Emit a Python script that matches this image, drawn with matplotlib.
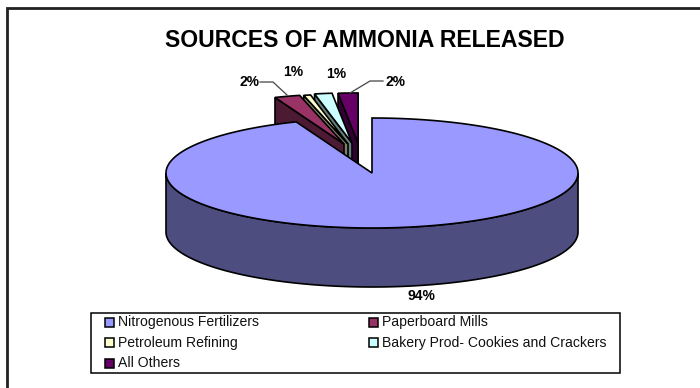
import numpy as np
import matplotlib
matplotlib.use("Agg")
import matplotlib.pyplot as plt
from matplotlib.patches import Polygon, Rectangle

plt.rcParams['font.family'] = ['Liberation Sans', 'DejaVu Sans']

categories = ["Nitrogenous Fertilizers", "Paperboard Mills", "Petroleum Refining",
              "Bakery Prod- Cookies and Crackers", "All Others"]
values = [94, 2.2, 0.6, 1.5, 1.7]
percent_labels = ["94%", "2%", "1%", "1%", "2%"]
top_colors = ["#9999ff", "#993366", "#ffffcc", "#ccffff", "#660066"]
side_colors = ["#4d4d80", "#4d1a33", "#808066", "#668080", "#330033"]
title = "SOURCES OF AMMONIA RELEASED"

W, H = 700, 388
fig = plt.figure(figsize=(W/100, H/100), dpi=100)
ax = fig.add_axes([0, 0, 1, 1])
ax.set_xlim(0, W); ax.set_ylim(H, 0); ax.axis('off')

# frame: top and left only reach into this crop of the slide
ax.plot([7, 7, W], [H, 8, 8], color="#222222", lw=2.0, solid_capstyle='butt', solid_joinstyle='miter')

cx, cy, rx, ry, depth = 372, 173, 206, 55, 59
lw = 1.2

def pt(theta, r=1.0, off=(0, 0)):
    return (cx + off[0] + r*rx*np.sin(theta), cy + off[1] - r*ry*np.cos(theta))

total = sum(values)
sweep = [v/total*2*np.pi for v in values]

# small exploded slices, drawn right to left so the left ones overlap
offs = [None, (-28, -29), (-24, -29), (-20, -30), (-14, -30)]
k = 0.91
starts = np.cumsum(sweep)
for i in range(4, 0, -1):
    a0, a1 = starts[i-1], starts[i]
    off = offs[i]
    o = (cx+off[0], cy+off[1])
    p0 = pt(a0, k, off)
    wall = [o, p0, (p0[0], p0[1]+depth), (o[0], o[1]+depth)]
    ax.add_patch(Polygon(wall, closed=True, fc=side_colors[i], ec='black', lw=lw, zorder=3))
    if i == 4:
        ax.add_patch(Polygon([o, (o[0], o[1]-ry*k), (o[0], o[1]-ry*k+depth*0.35), (o[0], o[1]+depth)],
                             closed=True, fc=side_colors[i], ec='black', lw=lw, zorder=3))
    arc = [pt(t, k, off) for t in np.linspace(a0, a1, 12)]
    ax.add_patch(Polygon([o]+arc, closed=True, fc=top_colors[i], ec='black', lw=lw, zorder=3))

# main slice, clockwise from 12 o'clock
th = np.linspace(0, sweep[0], 400)
vis = np.linspace(np.pi/2, 3*np.pi/2, 200)
upper = [pt(t) for t in vis]
lower = [pt(t, off=(0, depth)) for t in vis[::-1]]
ax.add_patch(Polygon(upper+lower, closed=True, fc=side_colors[0], ec='black', lw=lw, zorder=4))
top = [(cx, cy)] + [pt(t) for t in th]
ax.add_patch(Polygon(top, closed=True, fc=top_colors[0], ec='black', lw=lw, zorder=5))

# labels
ax.text(365, 40.5, title, ha='center', va='center', fontsize=16.6, fontweight='bold', color='black')
lab = [(421, 296), (250, 82), (293, 72), (336, 74), (395, 82)]
for (x, y), s in zip(lab, percent_labels):
    ax.text(x, y, s, ha='center', va='center', fontsize=10, fontweight='bold')
ax.plot([260, 273, 287], [82, 82, 95], color="#444444", lw=0.9, zorder=6)
ax.plot([383, 370, 350], [81, 81, 93], color="#444444", lw=0.9, zorder=6)

# legend
ax.add_patch(Rectangle((90.5, 313), 529.5, 60, fc='white', ec='black', lw=1.1))
pos = [(109.5, 322), (373, 322), (109.5, 342.5), (373, 342.5), (109.5, 363)]
for (x, y), c, s in zip(pos, top_colors, categories):
    ax.add_patch(Rectangle((x-4.5, y-4.5), 9, 9, fc=c, ec='black', lw=1.1))
    ax.text(x+8.5, y, s, ha='left', va='center', fontsize=10.05, color='#111111')

fig.savefig("out.png", dpi=100)
